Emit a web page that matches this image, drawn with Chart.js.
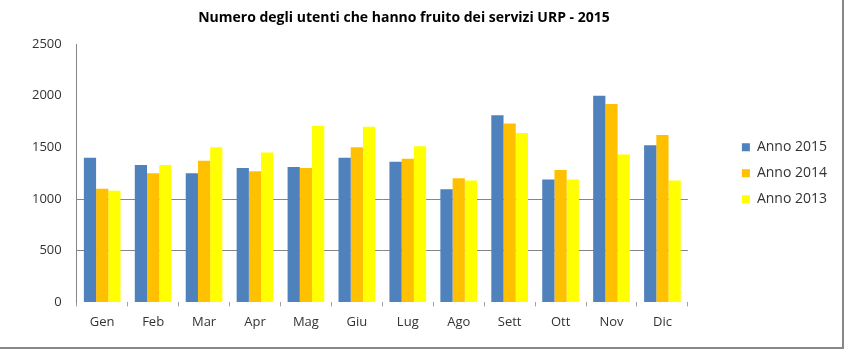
<!DOCTYPE html>
<html>
<head>
<meta charset="utf-8">
<script src="https://cdn.jsdelivr.net/npm/chart.js@4.4.0/dist/chart.umd.min.js"></script>
<style>
html,body{margin:0;padding:0;background:#fff;}
#wrap{width:849px;height:355px;position:relative;}
</style>
</head>
<body>
<div id="wrap"><canvas id="c" width="849" height="355"></canvas></div>
<script>
const titleText = "Numero degli utenti che hanno fruito dei servizi URP - 2015";
const months = ["Gen","Feb","Mar","Apr","Mag","Giu","Lug","Ago","Sett","Ott","Nov","Dic"];
const anno2015 = [1400,1330,1250,1300,1310,1400,1360,1095,1810,1190,2000,1520];
const anno2014 = [1100,1250,1370,1270,1300,1500,1390,1200,1730,1280,1920,1620];
const anno2013 = [1080,1330,1500,1450,1710,1700,1510,1180,1640,1190,1430,1180];
const yTicks = [0,500,1000,1500,2000,2500];
const gridValues = [500,1000];

const FONT = "'Open Sans', 'Liberation Sans', sans-serif";

const framePlugin = {
  id: 'frame',
  afterDraw(chart) {
    const ctx = chart.ctx;
    ctx.save();
    ctx.strokeStyle = '#878787';
    ctx.lineWidth = 2;
    ctx.beginPath();
    ctx.moveTo(0, 348);
    ctx.lineTo(844, 348);
    ctx.moveTo(843, 0);
    ctx.lineTo(843, 349);
    ctx.stroke();
    ctx.fillStyle = '#000';
    ctx.font = "bold 14px " + FONT;
    ctx.textAlign = 'center';
    ctx.textBaseline = 'middle';
    ctx.fillText(titleText, 404, 18);
    ctx.restore();
  }
};

new Chart(document.getElementById('c'), {
  type: 'bar',
  data: {
    labels: months,
    datasets: [
      { label: 'Anno 2015', data: anno2015, backgroundColor: '#4F81BD' },
      { label: 'Anno 2014', data: anno2014, backgroundColor: '#FFC000' },
      { label: 'Anno 2013', data: anno2013, backgroundColor: '#FFFF00' }
    ]
  },
  options: {
    responsive: false,
    animation: false,
    layout: { padding: { left: 17, top: 44, right: 12, bottom: 17 } },
    datasets: { bar: { categoryPercentage: 0.72, barPercentage: 1.0 } },
    plugins: {
      title: { display: false },
      tooltip: { enabled: false },
      legend: {
        position: 'right',
        fullSize: false,
        labels: {
          boxWidth: 8, boxHeight: 8, padding: 12,
          color: '#333', font: { family: FONT, size: 14 }
        }
      }
    },
    scales: {
      x: {
        grid: { display: true, drawOnChartArea: false, drawTicks: true, tickLength: 4, color: '#a0a0a0', offset: true },
        border: { display: false },
        ticks: { color: '#333', font: { family: FONT, size: 13 }, padding: 8 }
      },
      y: {
        min: 0, max: 2500,
        afterBuildTicks(axis) { axis.ticks = yTicks.map(v => ({ value: v })); },
        grid: {
          drawTicks: false,
          color: ctx => gridValues.includes(ctx.tick && ctx.tick.value) ? '#868686' : 'rgba(0,0,0,0)'
        },
        border: { display: true, color: '#868686' },
        ticks: { color: '#333', font: { family: FONT, size: 13 }, padding: 15, callback: v => String(v) }
      },
      gap: {
        position: 'right',
        display: true,
        min: 0, max: 1,
        grid: { display: false },
        border: { display: false },
        ticks: { display: false },
        afterFit(s) { s.width = 42; }
      }
    }
  },
  plugins: [framePlugin]
});
</script>
</body>
</html>
